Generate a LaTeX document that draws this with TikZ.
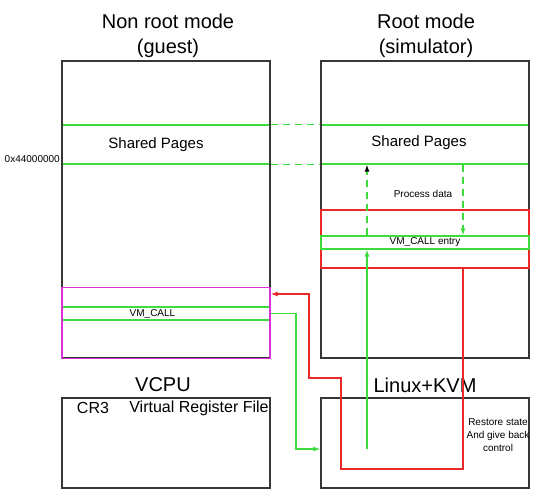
\documentclass[tikz,border=0pt]{standalone}
\usepackage{fontspec}
\setmainfont{Liberation Sans}
\usetikzlibrary{arrows.meta}
\definecolor{pagegreen}{RGB}{60,220,60}
\definecolor{exitred}{RGB}{235,40,40}
\definecolor{callmagenta}{RGB}{215,50,215}
\definecolor{boxgray}{RGB}{55,55,55}

\begin{document}
\begin{tikzpicture}[x=1pt, y=-1pt,
    modebox/.style={draw=boxgray, line width=1.2pt, minimum width=208pt, inner sep=0pt},
    pageband/.style={draw=pagegreen, line width=1.2pt, minimum width=208pt, inner sep=0pt},
    modetitle/.style={font=\fontsize{20}{25}\selectfont, align=center},
    pagetext/.style={font=\fontsize{15}{18}\selectfont},
    regtext/.style={font=\fontsize{16}{19}\selectfont},
    smalltext/.style={font=\fontsize{10}{13}\selectfont, align=center},
    flowtip/.style={-{Latex[length=7pt,width=5pt]}}]
    \useasboundingbox (0,0) rectangle (534,496);

    % Shared pages bands (under the mode boxes)
    \node[pageband, minimum height=39pt] (sharedL) at (166,144.5) {};
    \node[pageband, minimum height=39pt] (sharedR) at (425,144.5) {};

    % Non root mode (guest) and Root mode (simulator)
    \node[modebox, minimum height=297pt] (guest) at (166,209.5) {};
    \node[modebox, minimum height=297pt] (host) at (425,209.5) {};
    \node[modetitle] (guestT) at (168,36) {Non root mode\\(guest)};
    \node[modetitle] (hostT) at (426,36) {Root mode\\(simulator)};

    \node[pagetext] (sharedLT) at (156,145) {Shared Pages};
    \node[pagetext] (sharedRT) at (419,143) {Shared Pages};
    \node[smalltext, anchor=east, inner sep=1pt] (addr) at (61,159) {0x44000000};
    \draw[pagegreen, line width=1.2pt, dash pattern=on 7pt off 5pt] (sharedL.north east) -- (sharedR.north west);
    \draw[pagegreen, line width=1.2pt, dash pattern=on 7pt off 5pt] (sharedL.south east) -- (sharedR.south west);

    % Processing in root mode
    \node[smalltext] (procT) at (423,194) {Process data};
    \node[draw=exitred, line width=1.2pt, minimum width=208pt, minimum height=58pt, inner sep=0pt] (proc) at (425,239) {};
    \node[pageband, minimum height=13pt, smalltext] (entry) at (425,242.5) {VM\_CALL entry};

    % VM_CALL in the guest
    \node[pageband, minimum height=13pt] (callL) at (166,313.5) {};
    \node[draw=callmagenta, line width=1.2pt, minimum width=208pt, minimum height=71pt, inner sep=0pt] (call) at (166,323) {};
    \node[smalltext] (callT) at (152.5,314) {VM\_CALL};

    % VCPU and Linux+KVM
    \node[modetitle] (vcpuT) at (163,385) {VCPU};
    \node[modetitle] (kvmT) at (425,385) {Linux+KVM};
    \node[modebox, minimum height=90pt] (vcpu) at (166,443) {};
    \node[modebox, minimum height=90pt] (kvm) at (425,443) {};
    \node[regtext] (cr3) at (93,408) {CR3};
    \node[regtext] (regfile) at (199,408) {Virtual Register File};
    \node[smalltext] (restoreT) at (498,435) {Restore state\\And give back\\control};

    % Connectors
    \coordinate (upx) at (367,0);
    \coordinate (downx) at (463,0);
    \coordinate (kvmin) at (367,449);
    \coordinate (exitA) at (341,469);
    \coordinate (exitB) at (309,378);
    \coordinate (exitC) at (0,294);
    \coordinate (outB) at (296,449);
    \draw[pagegreen, line width=1.2pt, dash pattern=on 7pt off 5pt, -{Latex[length=7pt,width=5pt,color=black]}] (entry.north -| upx) -- (sharedR.south -| upx);
    \draw[pagegreen, line width=1.2pt, dash pattern=on 7pt off 5pt, flowtip] (sharedR.south -| downx) -- (entry.north -| downx);
    \draw[pagegreen, line width=1.2pt, flowtip] (kvmin) -- (entry.south -| kvmin);
    \draw[exitred, line width=1.2pt, flowtip] (proc.south -| downx) |- (exitA) |- (exitB) |- (call.east |- exitC);
    \draw[pagegreen, line width=1.2pt, flowtip] (callL.east) -| (outB) -- (kvm.west |- outB);
\end{tikzpicture}
\end{document}
